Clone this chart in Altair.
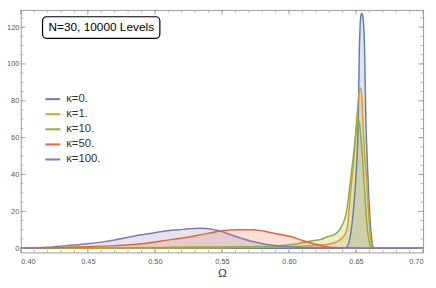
import altair as alt
import pandas as pd

# ---- data ----
series_names = ["κ=0.", "κ=1.", "κ=10.", "κ=50.", "κ=100."]
series_colors = ["#5E81B5", "#E19C24", "#8FB032", "#EB6235", "#8778B3"]

k0_x = [0.40, 0.640, 0.6425, 0.645, 0.647, 0.6488, 0.6502, 0.6512, 0.6519, 0.6524, 0.6530, 0.6537,
        0.6543, 0.6550, 0.6557, 0.6563, 0.6568, 0.6573, 0.6578, 0.6588, 0.6596, 0.6607, 0.6617,
        0.6625, 0.664, 0.70]
k0_y = [0, 0, 0.3, 4, 13, 27, 42, 58, 80, 105, 120, 126.5,
        127.5, 126, 121, 110, 90, 70, 58, 40, 27, 13, 5,
        1, 0, 0]

k1_x = [0.40, 0.50, 0.55, 0.60, 0.616, 0.63, 0.6358, 0.6406, 0.6435, 0.6461, 0.648, 0.6495, 0.651,
        0.6523, 0.6533, 0.6543, 0.655, 0.6555, 0.6567, 0.658, 0.659, 0.660, 0.661, 0.662, 0.663, 0.70]
k1_y = [0, 0.1, 0.3, 0.8, 1.4, 2.3, 3.6, 6.2, 11, 32, 45, 60, 75,
        84, 87, 83, 72, 63, 48, 37, 24, 12, 5, 1.5, 0, 0]

k10_x = [0.40, 0.45, 0.50, 0.53, 0.55, 0.58, 0.595, 0.605, 0.6178, 0.624, 0.6286, 0.6334, 0.6394,
         0.643, 0.6459, 0.648, 0.6495, 0.6514, 0.6525, 0.654, 0.6555, 0.657, 0.6585, 0.660,
         0.6615, 0.663, 0.70]
k10_y = [0, 0.1, 0.4, 0.7, 0.7, 0.9, 1.5, 2.3, 4.1, 4.8, 6.2, 7.2, 12,
         20, 37, 50, 60, 70.4, 68, 57, 42, 24, 10, 3,
         0.5, 0, 0]

k50_x = [0.40, 0.42, 0.434, 0.45, 0.47, 0.494, 0.513, 0.518, 0.532, 0.549, 0.561, 0.573, 0.585,
         0.597, 0.602, 0.610, 0.619, 0.628, 0.640, 0.660, 0.70]
k50_y = [0, 0.2, 0.5, 0.8, 1.4, 2.7, 4.8, 5.3, 7.0, 9.3, 10.0, 10.0, 8.7,
         7.0, 6.2, 4.2, 2.3, 0.8, 0.2, 0, 0]

k100_x = [0.40, 0.42, 0.434, 0.45, 0.46, 0.47, 0.482, 0.49, 0.499, 0.511, 0.518, 0.525, 0.535,
          0.547, 0.561, 0.573, 0.585, 0.600, 0.620, 0.640, 0.660, 0.70]
k100_y = [0, 0.5, 1.4, 2.4, 3.3, 4.5, 6.2, 7.3, 8.3, 9.6, 10.0, 10.5, 10.8,
          9.6, 6.2, 3.6, 1.9, 0.8, 0.3, 0.1, 0, 0]

x_major = [0.40, 0.45, 0.50, 0.55, 0.60, 0.65, 0.70]
x_minor = [round(0.40 + 0.01 * i, 2) for i in range(31)]
y_major = [0, 20, 40, 60, 80, 100, 120]
y_minor = [5 * i for i in range(26)]

box_text = "N=30, 10000 Levels"

# ---- build long table ----
rows = []
for name, xs_, ys_ in zip(series_names, [k0_x, k1_x, k10_x, k50_x, k100_x],
                          [k0_y, k1_y, k10_y, k50_y, k100_y]):
    for i, (xv, yv) in enumerate(zip(xs_, ys_)):
        rows.append({"series": name, "omega": xv, "value": yv, "zero": 0.0, "order": i})
df = pd.DataFrame(rows)

X_DOM = [0.40, 0.70]
Y_DOM = [-2.3, 129.3]
W, H = 408, 246

xs = alt.Scale(domain=X_DOM, nice=False, zero=False)
ys = alt.Scale(domain=Y_DOM, nice=False, zero=False)
cscale = alt.Scale(domain=series_names, range=series_colors)

legend = alt.Legend(orient="none", legendX=24, legendY=82, title=None,
                    symbolType="stroke", symbolStrokeWidth=2, symbolSize=225,
                    labelFontSize=11.5, labelColor="#333333",
                    labelFont="Liberation Sans", rowPadding=1.3,
                    padding=0, labelOffset=5)

x_enc = alt.X("omega:Q", scale=xs,
              axis=alt.Axis(values=x_major, format=".2f", ticks=False, domain=False, grid=False,
                            labelFontSize=7.5, labelColor="#555555", labelPadding=5,
                            title="Ω", titleFontSize=12, titleFontWeight="normal",
                            titleColor="#333333", titlePadding=3, labelFont="Liberation Sans",
                            titleFont="Liberation Sans"))
y_enc = alt.Y("value:Q", scale=ys,
              axis=alt.Axis(values=y_major, ticks=False, domain=False, grid=False,
                            labelFontSize=7.5, labelColor="#555555", labelPadding=2,
                            title=None, labelFont="Liberation Sans"))

base = alt.Chart(df)

areas = base.mark_area(fillOpacity=0.2, interpolate="monotone").encode(
    x=x_enc,
    y=y_enc,
    y2="zero:Q",
    color=alt.Color("series:N", scale=cscale, sort=series_names, legend=legend),
)

lines = base.mark_line(strokeWidth=1.5, interpolate="monotone").encode(
    x=alt.X("omega:Q", scale=xs),
    y=alt.Y("value:Q", scale=ys),
    color=alt.Color("series:N", scale=cscale, sort=series_names, legend=legend),
    order="order:Q",
)

tick_col = "#9a9a9a"
xmaj_df = pd.DataFrame({"t": x_major})
xmin_df = pd.DataFrame({"t": x_minor})
ymaj_df = pd.DataFrame({"t": y_major})
ymin_df = pd.DataFrame({"t": y_minor})

def xticks(d, length):
    b = alt.Chart(d).mark_rule(color=tick_col, strokeWidth=0.8)
    bottom = b.encode(x=alt.X("t:Q", scale=xs), y=alt.value(H), y2=alt.value(H - length))
    top = b.encode(x=alt.X("t:Q", scale=xs), y=alt.value(0), y2=alt.value(length))
    return bottom + top

def yticks(d, length):
    b = alt.Chart(d).mark_rule(color=tick_col, strokeWidth=0.8)
    left = b.encode(y=alt.Y("t:Q", scale=ys), x=alt.value(0), x2=alt.value(length))
    right = b.encode(y=alt.Y("t:Q", scale=ys), x=alt.value(W), x2=alt.value(W - length))
    return left + right

ann = pd.DataFrame({"x0": [0.4162], "x1": [0.5037], "y0": [113.9], "y1": [125.6],
                    "xc": [0.4600], "yc": [119.75], "label": [box_text]})
box = alt.Chart(ann).mark_rect(fill="white", stroke="black", strokeWidth=1.2, cornerRadius=4).encode(
    x=alt.X("x0:Q", scale=xs), x2="x1:Q", y=alt.Y("y0:Q", scale=ys), y2="y1:Q")
box_txt = alt.Chart(ann).mark_text(fontSize=12, font="Liberation Sans", color="black").encode(
    x=alt.X("xc:Q", scale=xs), y=alt.Y("yc:Q", scale=ys), text="label:N")

chart = alt.layer(
    areas, lines,
    xticks(xmin_df, 2.5), xticks(xmaj_df, 5),
    yticks(ymin_df, 2.5), yticks(ymaj_df, 5),
    box, box_txt,
).properties(
    width=W, height=H,
    autosize=alt.AutoSizeParams(type="none"),
    padding={"left": 13, "top": 0, "right": 5, "bottom": 26},
).configure_view(stroke="#9a9a9a", strokeWidth=1)

chart.save("out.html", embed_options={"renderer": "svg", "actions": False})
